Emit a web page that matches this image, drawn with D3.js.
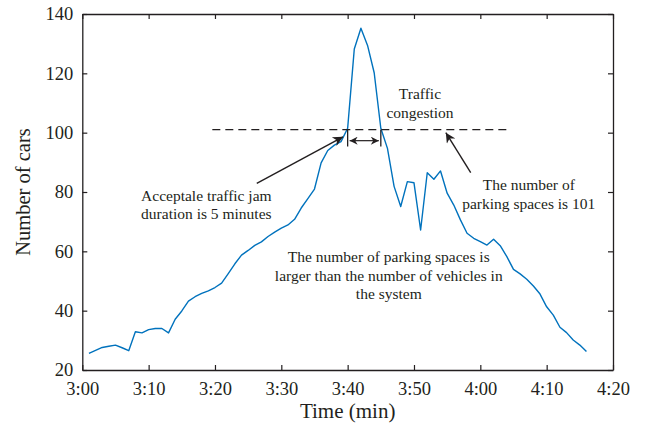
<!DOCTYPE html>
<html><head><meta charset="utf-8">
<script src="https://cdn.jsdelivr.net/npm/d3@7"></script>
<style>body{margin:0;background:#fff}svg{display:block}text{font-family:"Liberation Serif","Times New Roman",serif;fill:#231f20}</style>
</head><body><div id="chart"></div>
<script>
// minutes after 3:00
const minutes = [1,2,3,4,5,6,7,8,9,10,11,12,13,14,15,16,17,18,19,20,21,22,23,24,25,26,27,28,29,30,31,32,33,34,35,36,37,38,39,40,41,42,43,44,45,46,47,48,49,50,51,52,53,54,55,56,57,58,59,60,61,62,63,64,65,66,67,68,69,70,71,72,73,74,75,76];
const cars = [25.6,26.6,27.6,28.0,28.4,27.5,26.5,32.9,32.5,33.6,34.0,34.0,32.5,37.1,39.9,43.2,44.7,45.8,46.7,47.8,49.3,52.5,55.8,58.7,60.3,62.0,63.2,65.0,66.5,67.8,68.9,70.8,74.6,77.8,81.0,89.8,94.0,95.8,97.0,101.5,128.2,135.2,129.4,120.2,101.5,94.7,81.9,75.1,83.5,83.1,67.2,86.5,84.3,87.1,79.6,75.6,70.6,66.1,64.4,63.3,62.1,64.1,61.9,58.2,53.9,52.4,50.6,48.3,45.6,41.3,38.5,34.4,32.6,30.1,28.4,26.2];
const xTickValues = [0,10,20,30,40,50,60,70,80];
const xTickLabels = ["3:00","3:10","3:20","3:30","3:40","3:50","4:00","4:10","4:20"];
const yTickValues = [20,40,60,80,100,120,140];
const parkingSpaces = 101;
const jamStart = 40, jamEnd = 45;

const W = 645, H = 430;
const m = {left:82.3, right:32, top:14, bottom:60};
const svg = d3.select("#chart").append("svg").attr("width",W).attr("height",H);
const x = d3.scaleLinear().domain([0,80]).range([m.left, W-m.right]);
const y = d3.scaleLinear().domain([20,140]).range([H-m.bottom, m.top]);
const axisColor = "#231f20";
const tickFont = "18.5px";

// axes
const gx = svg.append("g").attr("transform",`translate(0,${y(20)})`)
  .call(d3.axisBottom(x).tickValues(xTickValues).tickFormat((d,i)=>xTickLabels[i]).tickSizeInner(-5).tickSizeOuter(0).tickPadding(10));
const gxt = svg.append("g").attr("transform",`translate(0,${y(140)})`)
  .call(d3.axisTop(x).tickValues(xTickValues).tickFormat("").tickSizeInner(-5).tickSizeOuter(0));
const gy = svg.append("g").attr("transform",`translate(${x(0)},0)`)
  .call(d3.axisLeft(y).tickValues(yTickValues).tickSizeInner(-5).tickSizeOuter(0).tickPadding(9));
const gyr = svg.append("g").attr("transform",`translate(${x(80)},0)`)
  .call(d3.axisRight(y).tickValues(yTickValues).tickFormat("").tickSizeInner(-5).tickSizeOuter(0));
[gx,gxt,gy,gyr].forEach(g=>{
  g.selectAll("path.domain").attr("stroke",axisColor).attr("stroke-width",1.3);
  g.selectAll(".tick line").attr("stroke",axisColor).attr("stroke-width",1.2);
  g.selectAll(".tick text").style("font-family",'"Liberation Serif",serif').style("font-size",tickFont).attr("fill","#231f20");
});
gx.selectAll(".tick text").attr("dy","0.8em");

// axis titles
svg.append("text").attr("x",x(40)).attr("y",418).attr("text-anchor","middle").style("font-size","21px").text("Time (min)");
svg.append("text").attr("transform",`translate(30,${y(80)}) rotate(-90)`).attr("text-anchor","middle").style("font-size","20.5px").text("Number of cars");

// data line
svg.append("path").datum(minutes.map((t,i)=>[t,cars[i]]))
  .attr("fill","none").attr("stroke","#0072BD").attr("stroke-width",1.4).attr("stroke-linejoin","round")
  .attr("d", d3.line().x(d=>x(d[0])).y(d=>y(d[1])));

// dashed capacity line
svg.append("line").attr("x1",x(19.6)).attr("x2",x(64.5)).attr("y1",y(parkingSpaces)).attr("y2",y(parkingSpaces))
  .attr("stroke","#231f20").attr("stroke-width",1.2).attr("stroke-dasharray","8,5");

// arrowheads
const defs = svg.append("defs");
defs.append("marker").attr("id","ah").attr("viewBox","0 0 10 10").attr("refX",10).attr("refY",5)
  .attr("markerWidth",10).attr("markerHeight",8).attr("markerUnits","userSpaceOnUse").attr("orient","auto-start-reverse")
  .append("path").attr("d","M0,0 L10,5 L0,10 L3,5 Z").attr("fill","#231f20");
defs.append("marker").attr("id","ah2").attr("viewBox","0 0 10 10").attr("refX",10).attr("refY",5)
  .attr("markerWidth",13).attr("markerHeight",10).attr("markerUnits","userSpaceOnUse").attr("orient","auto-start-reverse")
  .append("path").attr("d","M0,0 L10,5 L0,10 L3,5 Z").attr("fill","#231f20");

// jam duration markers
[jamStart, jamEnd].forEach(t=>{
  svg.append("line").attr("x1",x(t)).attr("x2",x(t)).attr("y1",y(parkingSpaces)).attr("y2",y(95.3))
    .attr("stroke","#231f20").attr("stroke-width",1.3);
});
svg.append("line").attr("x1",x(jamStart)+2).attr("x2",x(jamEnd)-2).attr("y1",y(97.3)).attr("y2",y(97.3))
  .attr("stroke","#231f20").attr("stroke-width",1.2)
  .attr("marker-start","url(#ah)").attr("marker-end","url(#ah)");

// annotation arrows
svg.append("line").attr("x1",x(26.3)).attr("y1",y(82.9)).attr("x2",x(39.3)).attr("y2",y(98.6))
  .attr("stroke","#231f20").attr("stroke-width",1.4).attr("marker-end","url(#ah2)");
svg.append("line").attr("x1",x(58.55)).attr("y1",y(86.5)).attr("x2",x(54.8)).attr("y2",y(100.0))
  .attr("stroke","#231f20").attr("stroke-width",1.4).attr("marker-end","url(#ah2)");

// annotation texts
function label(t, lines, baselines){
  lines.forEach((s,i)=>svg.append("text").attr("x",x(t)).attr("y",baselines[i]).attr("text-anchor","middle")
    .style("font-size","15.5px").text(s));
}
label(50.9, ["Traffic","congestion"], [99,118]);
label(18.7, ["Acceptale traffic jam","duration is 5 minutes"], [200.5,218.5]);
label(67.3, ["The number of","parking spaces is 101"], [190,209]);
label(46.2, ["The number of parking spaces is","larger than the number of vehicles in","the system"], [262,280.5,299]);
</script></body></html>
